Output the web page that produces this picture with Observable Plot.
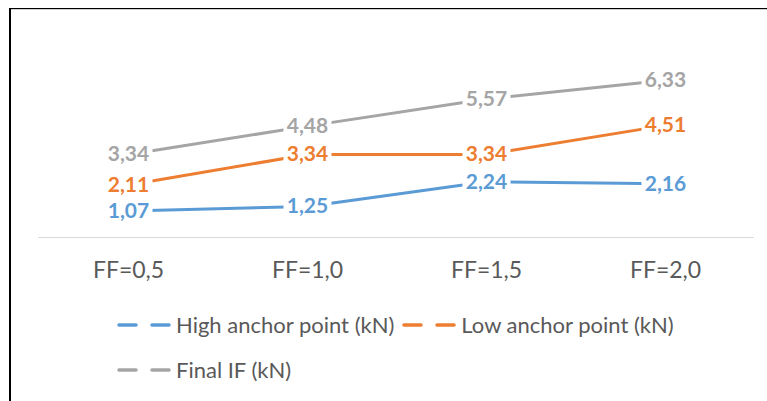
<!DOCTYPE html>
<html>
<head>
<meta charset="utf-8">
<script src="https://cdn.jsdelivr.net/npm/d3@7"></script>
<script src="https://cdn.jsdelivr.net/npm/@observablehq/plot@0.6"></script>
<style>
  body { margin: 0; background: #fff; font-family: Lato, "Open Sans", sans-serif; }
  #wrap { position: relative; width: 767px; height: 401px; overflow: hidden; background: #fff; }
  #frame { position: absolute; left: 9px; top: 8px; right: -4px; bottom: -4px;
           border-top: 1px solid #000; border-left: 2px solid #000;
           box-shadow: inset 0 1px 0 #cfcfcf; }
  #chart { position: absolute; left: 0; top: 0; }
  #legend { position: absolute; left: 117px; top: 313px; width: 620px;
            display: flex; flex-wrap: wrap; column-gap: 8px; row-gap: 21px; }
  .item { display: flex; align-items: center; height: 24px; line-height: 24px; font-size: 22px; color: #595959; white-space: nowrap; }
  .item svg { margin-right: 3px; }
</style>
</head>
<body>
<div id="wrap">
  <div id="frame"></div>
  <div id="chart"></div>
  <div id="legend"></div>
</div>
<script>
// Categories and series values
const categories = ["FF=0,5", "FF=1,0", "FF=1,5", "FF=2,0"];
const seriesNames = ["High anchor point (kN)", "Low anchor point (kN)", "Final IF (kN)"];
const highAnchor = [1.07, 1.25, 2.24, 2.16];
const lowAnchor = [2.11, 3.34, 3.34, 4.51];
const finalIF = [3.34, 4.48, 5.57, 6.33];
const seriesColors = ["#5B9BD5", "#ED7D31", "#A5A5A5"];

const seriesValues = [highAnchor, lowAnchor, finalIF];
const rows = seriesValues.flatMap((vals, s) =>
  vals.map((v, i) => ({ series: seriesNames[s], category: categories[i], value: v }))
);

// decimal comma labels
const fmt = v => d3.format(".2f")(v).replace(".", ",");

// white box behind each data label, so the line stops short of the text
const labelBox = { draw(context) { context.rect(-24, -10, 48, 20); } };

const chart = Plot.plot({
  width: 767,
  height: 300,
  marginTop: 63,
  marginBottom: 63,
  marginLeft: 38,
  marginRight: 13,
  style: { fontFamily: "Lato, 'Open Sans', sans-serif", background: "transparent", overflow: "visible" },
  x: { type: "point", domain: categories, padding: 0.5, label: null },
  y: { domain: [0, 7], axis: null },
  color: { domain: seriesNames, range: seriesColors },
  marks: [
    Plot.ruleY([0], { stroke: "#D9D9D9", strokeWidth: 1 }),
    Plot.axisX({ tickSize: 0, tickPadding: 24, fontSize: 23, color: "#595959", label: null }),
    Plot.line(rows, { x: "category", y: "value", z: "series", stroke: "series", strokeWidth: 3, strokeLinecap: "round" }),
    Plot.dot(rows, { x: "category", y: "value", symbol: labelBox, fill: "white", stroke: null }),
    Plot.text(rows, {
      x: "category", y: "value", text: d => fmt(d.value), fill: "series",
      fontWeight: "bold", fontSize: 21
    })
  ]
});
document.getElementById("chart").appendChild(chart);

// legend below the plot
const legend = document.getElementById("legend");
seriesNames.forEach((name, i) => {
  const item = document.createElement("div");
  item.className = "item";
  item.innerHTML =
    `<svg width="56" height="10"><line x1="2" y1="5" x2="54" y2="5" stroke="${seriesColors[i]}" stroke-width="3.5" stroke-linecap="round" stroke-dasharray="17 16"/></svg><span>${name}</span>`;
  legend.appendChild(item);
});
</script>
</body>
</html>
